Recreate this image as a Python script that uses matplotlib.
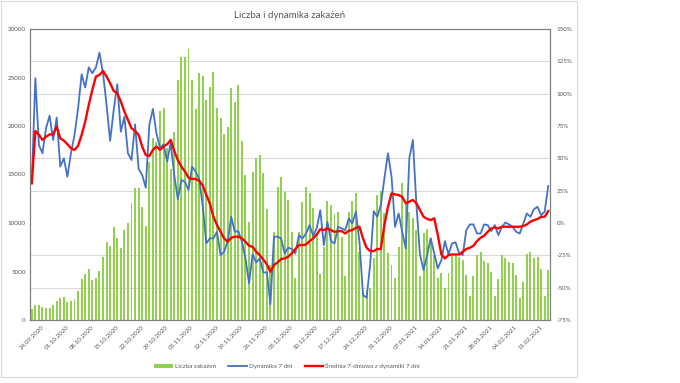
import numpy as np
import matplotlib.pyplot as plt
from matplotlib.patches import Rectangle
from matplotlib.ticker import FuncFormatter

plt.rcParams['font.family'] = ['Lato', 'DejaVu Sans']

# daily data, first day 24.09.2020
cases = [1100, 1580, 1580, 1300, 1250, 1250, 1500, 1950, 2280, 2350,
         1900, 1950, 2200, 2950, 4250, 4700, 5280, 4150, 4350, 5050,
         6450, 8080, 7660, 9560, 8490, 7460, 9250, 9950, 12100, 13600,
         13600, 11700, 9700, 16300, 18750, 18400, 21550, 21890, 17700, 15600,
         19350, 24700, 27150, 27080, 27900, 24750, 21800, 25500, 25200, 22680,
         24030, 25540, 21820, 20790, 19140, 19860, 23950, 22440, 24230, 18460,
         14950, 10070, 15290, 16670, 17010, 15120, 11440, 5700, 9100, 13750,
         14780, 13230, 12370, 9110, 4300, 9110, 12130, 13680, 13060, 11510,
         8750, 4730, 7560, 12240, 11860, 10930, 11170, 8590, 4570, 11170,
         12300, 13060, 7050, 2920, 3090, 3270, 6360, 12890, 13340, 11000,
         6870, 5670, 4300, 7560, 14090, 12030, 11170, 10480, 9280, 4540,
         8940, 9380, 8420, 6700, 4300, 4810, 3270, 4810, 6700, 6700,
         6530, 6190, 4640, 2510, 4570, 6700, 7050, 6120, 5840, 4980,
         2510, 4230, 6700, 6430, 6010, 5840, 4640, 2300, 3950, 6800,
         6980, 6360, 6530, 5220, 2510, 5160]

dyn7 = [30.7, 112, 60.3, 53.9, 73.2, 83, 64.2, 81.5, 43.6, 50,
        35.8, 53.9, 68.1, 88.7, 115, 104.7, 120.4, 115.8, 120.2, 131.7,
        115.8, 91.3, 63.5, 87.4, 107.3, 70.6, 82.2, 53.9, 48.7, 76.3,
        41.8, 37.1, 27.3, 75.8, 88.2, 69.4, 57.8, 60.9, 47.5, 61.7,
        37.1, 18.5, 33.2, 31.9, 25.5, 43.6, 39.8, 34.1, 13.4, -15.8,
        -11.9, -11.9, -6.8, -24.8, -22.2, -14.5, 4.8, -6.8, -6.3, -14.5,
        -27.4, -46.7, -24.3, -30.5, -27.4, -38.2, -38.2, -62.9, -10.6, -10.6,
        -11.9, -23.5, -19.1, -20.1, -23.5, -9.4, -11.9, -8.1, -1.6, -9.9,
        -4.2, 9.9, -17.1, 0.9, -14.0, -15.8, -2.9, -4.2, -5.5, 3.5,
        -0.3, 8.7, -14.5, -55.7, -57.7, -32.5, 9.2, 4.8, 13.9, 34.5,
        53.9, 36, -3, 7.4, -6.8, -19.7, 50, 64.2, 13.9, -24.8,
        -36.4, -24.8, -11.9, -23.5, -35.1, -28.7, -14.0, -24.3, -15.8, -15.0,
        -23.5, -24.8, -5.5, -1.1, -1.1, -8.1, -8.1, -1.1, -1.6, -6.3,
        -1.6, -9.4, -2.9, 0.4, -1.1, -2.9, -6.8, -8.1, -0.3, 7.4,
        4.8, 10.7, 12.5, 6.1, 8.7, 28.6]

avg7 = [30.7, 71.1, 68.1, 64.2, 66.7, 68.5, 68.5, 74.5, 65.5, 63.7,
        60.9, 57.8, 56.5, 59.8, 68.1, 78.4, 91.3, 102.9, 113.2, 114.5,
        117.6, 113.2, 108.1, 102.1, 100.3, 93.9, 86.2, 79.7, 73.3, 71.2,
        68.1, 59.1, 52.6, 51.8, 56.5, 59.1, 56.5, 59.1, 60.9, 64.2,
        55.7, 48.7, 43.6, 39.8, 35.1, 34.1, 34.1, 32.6, 29.0, 21.8,
        15.0, 4.8, -1.6, -6.8, -11.9, -14.5, -11.4, -10.6, -10.6, -11.9,
        -14.5, -17.6, -18.4, -22.2, -24.8, -28.2, -32.0, -37.7, -32.5, -30.5,
        -27.9, -27.4, -26.1, -23.5, -20.1, -17.1, -17.1, -16.6, -14.0, -11.9,
        -8.9, -4.8, -5.5, -4.2, -5.5, -6.8, -6.3, -6.3, -8.1, -6.0,
        -5.5, -3.7, -2.9, -11.9, -19.1, -21.7, -21.7, -20.1, -20.1, -1.6,
        12.5, 22.9, 22.1, 21.6, 20.3, 15.2, 16.5, 17.8, 15.2, 10.1,
        4.9, 3.1, 2.3, 3.6, -9.4, -24.3, -27.4, -24.8, -24.3, -24.3,
        -24.3, -22.2, -20.1, -19.1, -17.6, -14.0, -11.4, -9.9, -6.8, -4.2,
        -3.5, -4.2, -2.9, -2.9, -2.9, -2.9, -2.9, -2.9, -2.4, -1.1,
        1.0, 2.2, 3.1, 4.8, 4.8, 9.2]

date_labels = ['24.09.2020', '01.10.2020', '08.10.2020', '15.10.2020', '22.10.2020',
               '29.10.2020', '05.11.2020', '12.11.2020', '19.11.2020', '26.11.2020',
               '03.12.2020', '10.12.2020', '17.12.2020', '24.12.2020', '31.12.2020',
               '07.01.2021', '14.01.2021', '21.01.2021', '28.01.2021', '04.02.2021',
               '11.02.2021']

grey = '#595959'
days = np.arange(len(cases))

fig = plt.figure(figsize=(6.8, 3.83), dpi=100)
fig.add_artist(Rectangle((1/680, 6/383), 576/680, 376/383, transform=fig.transFigure,
                         fill=False, edgecolor='#d9d9d9', lw=0.8))

ax = fig.add_axes([30/680, 63/383, 520/680, 291/383])
bars = ax.bar(days, cases, width=0.55, color='#92d050', zorder=2)
ax.set_xlim(-0.5, len(cases) - 0.5)
ax.set_ylim(0, 30000)
ax.set_yticks(range(0, 30001, 5000))
ax.set_yticks(np.linspace(0, 30000, 10), minor=True)
ax.grid(which='minor', axis='y', color='#d9d9d9', lw=0.8)
ax.set_axisbelow(True)
ax.set_xticks(days[::7])
ax.set_xticklabels(date_labels, rotation=45, ha='center')
ax.tick_params(which='both', length=0, labelsize=4.5, labelcolor=grey, pad=3)

ax2 = ax.twinx()
l1, = ax2.plot(days, dyn7, color='#4472c4', lw=1.3)
l2, = ax2.plot(days, avg7, color='#ff0000', lw=1.7)
ax2.set_ylim(-75, 150)
ax2.set_yticks(range(-75, 151, 25))
ax2.yaxis.set_major_formatter(FuncFormatter(lambda v, p: '%d%%' % v))
ax2.tick_params(length=0, labelsize=4.5, labelcolor=grey, pad=5)

for a in (ax, ax2):
    for s in a.spines.values():
        s.set_color('#7f7f7f')
        s.set_linewidth(0.8)

fig.text(290/680, 1 - 15/383, 'Liczba i dynamika zakażeń', ha='center', va='center',
         fontsize=7, color=grey)

leg = fig.legend([bars, l1, l2],
                 ['Liczba zakażeń', 'Dynamika 7 dni', 'Średnia 7-dniowa z dynamiki 7 dni'],
                 loc='center', bbox_to_anchor=(287/680, 1 - 366/383), ncol=3,
                 frameon=False, fontsize=4.5, handlelength=3.0, handleheight=0.5,
                 columnspacing=2.0, handletextpad=0.3)
for t in leg.get_texts():
    t.set_color(grey)

fig.savefig('out.png', dpi=100)
